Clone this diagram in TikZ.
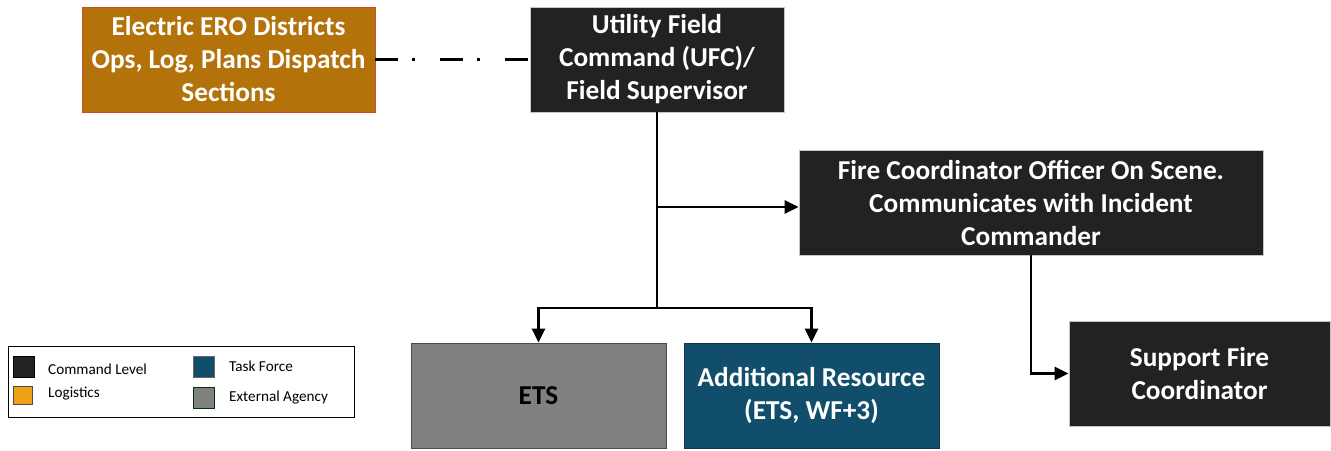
\documentclass[tikz,border=0pt]{standalone}
\usepackage{fontspec}
\setmainfont{Carlito}
\usetikzlibrary{arrows.meta}
\definecolor{cmdblack}{RGB}{34,34,34}
\definecolor{eroorange}{RGB}{180,114,10}
\definecolor{eroborder}{RGB}{200,80,40}
\definecolor{tfblue}{RGB}{16,78,108}
\definecolor{extgray}{RGB}{128,128,128}
\definecolor{logorange}{RGB}{240,160,20}
\tikzset{
  box/.style={inner sep=0pt, align=center, font=\fontsize{27.3}{33}\selectfont\bfseries, text=white},
  cmdbox/.style={box, fill=cmdblack, draw=gray!45, line width=0.8pt},
  conn/.style={line width=2.5pt, -{Triangle[length=14pt,width=13pt]}},
  plain/.style={line width=2.5pt},
  lgsq/.style={minimum width=21pt, minimum height=21pt, inner sep=0pt, line width=0.8pt},
  lgtxt/.style={anchor=west, inner sep=0pt, font=\fontsize{15.2}{18}\selectfont}
}
\begin{document}
\begin{tikzpicture}[x=1pt,y=-1pt]
\useasboundingbox[fill=white] (0,0) rectangle (1331,450);
% boxes
\node[box, fill=eroorange, draw=eroborder, line width=0.8pt, minimum width=293pt, minimum height=105pt] (ero) at (228.5,59.5) {Electric ERO Districts\\Ops, Log, Plans Dispatch\\Sections};
\node[cmdbox, minimum width=254pt, minimum height=105pt] (ufc) at (657,59.5) {Utility Field\\Command (UFC)/\\Field Supervisor};
\node[cmdbox, minimum width=464pt, minimum height=105pt] (fco) at (1031,202.5) {Fire Coordinator Officer On Scene.\\Communicates with Incident\\Commander};
\node[cmdbox, minimum width=261pt, minimum height=105pt] (sfc) at (1199.5,373.5) {Support Fire\\Coordinator};
\node[box, text=black, fill=extgray, draw=gray!60!black, line width=0.8pt, minimum width=255pt, minimum height=105pt] (ets) at (538.5,395.5) {ETS};
\node[box, fill=tfblue, draw=tfblue!70!black, line width=0.8pt, minimum width=255pt, minimum height=105pt] (add) at (811.5,395.5) {Additional Resource\\(ETS, WF+3)};
% connectors
\draw[line width=3pt, dash pattern=on 23pt off 14pt on 3pt off 25pt] (ero.east) -- (ufc.west);
\coordinate (split) at (657,308);
\coordinate (mid) at (657,207);
\draw[plain] (ufc.south) -- (split);
\draw[conn] (mid) -- (fco.west |- mid);
\draw[conn] (split) -| (ets.north);
\draw[conn] (split) -| (add.north);
\draw[conn] (fco.south) |- (sfc.west);
% legend
\node[draw=black, line width=0.8pt, minimum width=346pt, minimum height=71pt, inner sep=0pt] (legend) at (181,381.5) {};
\node[lgsq, fill=cmdblack, draw=black] (lg1) at (23.5,366.5) {};
\node[lgtxt] (lt1) at (48,369) {Command Level};
\node[lgsq, fill=logorange, draw=black!70, minimum width=19pt, minimum height=18pt] (lg2) at (23,395) {};
\node[lgtxt] (lt2) at (48,394) {Logistics};
\node[lgsq, fill=tfblue, draw=black!60] (lg3) at (203.5,367) {};
\node[lgtxt] (lt3) at (229,366) {Task Force};
\node[lgsq, fill=extgray, draw=green!20!black] (lg4) at (203.5,397.5) {};
\node[lgtxt] (lt4) at (229,398) {External Agency};
\end{tikzpicture}
\end{document}
